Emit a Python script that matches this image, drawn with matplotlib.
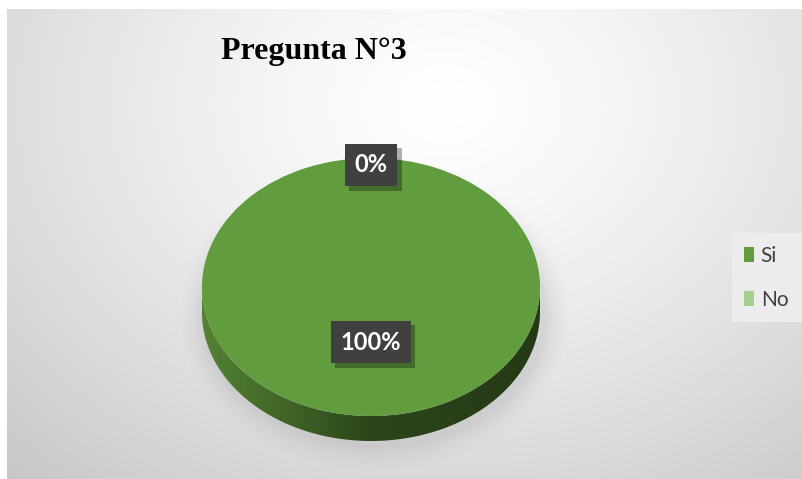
import numpy as np
import matplotlib
matplotlib.use("Agg")
import matplotlib.pyplot as plt
from matplotlib.path import Path
from matplotlib.patches import PathPatch, Rectangle, Ellipse
import matplotlib.patheffects as pe

# ---- data ----
title = "Pregunta N°3"
categories = ["Si", "No"]
values = [100, 0]
pct_labels = ["100%", "0%"]
colors = ["#619c3e", "#a6cf8e"]

W, H = 803, 479
fig = plt.figure(figsize=(W / 100, H / 100), dpi=100)
fig.patch.set_facecolor("white")

# background panel with radial gradient
bx0, by0 = 7, 9
bg = fig.add_axes([bx0 / W, 0, 1 - bx0 / W, 1 - by0 / H])
bg.set_axis_off()
ny, nx = 200, 330
yy, xx = np.mgrid[0:ny, 0:nx]
cx, cy = 0.55 * nx, 0.2 * ny
r = np.sqrt(((xx - cx) / nx) ** 2 + ((yy - cy) / ny * 0.75) ** 2)
r = r / r.max()
val = 1.0 - 0.22 * np.clip(r, 0, 1) ** 1.3
img = np.dstack([val, val, val])
bg.imshow(img, aspect="auto", extent=[0, 1, 0, 1], origin="upper")
bg.set_xlim(0, 1)
bg.set_ylim(0, 1)

# pie axes (pixel geometry)
pcx, pcy = 371, 287
rx, ry = 169, 129
left_px, right_px, top_px, bot_px = 180, 560, 140, 460
ax = fig.add_axes([left_px / W, (H - bot_px) / H, (right_px - left_px) / W, (bot_px - top_px) / H])
ax.patch.set_alpha(0)

wedges, _ = ax.pie(values, colors=colors, startangle=90, counterclock=False,
                   radius=1, center=(0, 0), wedgeprops=dict(linewidth=0, zorder=5))
ax.set_aspect("auto")
ax.set_axis_off()

depth = 25 / ry

# soft shadow under pie
for i, a in enumerate(np.linspace(0.05, 0.012, 6)):
    e = Ellipse((0.02, -depth - 0.02), 2.0 + 0.05 * (i + 1), 2.0 + 0.07 * (i + 1),
                facecolor="#808080", edgecolor="none", alpha=a, zorder=1, clip_on=False)
    ax.add_patch(e)

# side of the pie with horizontal gradient
t1 = np.linspace(np.pi, 2 * np.pi, 200)
top_arc = np.column_stack([np.cos(t1), np.sin(t1)])
bot_arc = np.column_stack([np.cos(t1[::-1]), np.sin(t1[::-1]) - depth])
verts = np.vstack([top_arc, bot_arc, top_arc[:1]])
codes = [Path.MOVETO] + [Path.LINETO] * (len(verts) - 2) + [Path.CLOSEPOLY]
side_path = Path(verts, codes)
side_patch = PathPatch(side_path, facecolor="none", edgecolor="none")
ax.add_patch(side_patch)
gx = np.linspace(0, 1, 300)
c_left = np.array([84, 130, 52]) / 255
c_mid = np.array([44, 70, 27]) / 255
c_right = np.array([36, 58, 22]) / 255
grad = np.where(gx[:, None] < 0.5,
                c_left + (c_mid - c_left) * (gx[:, None] / 0.5),
                c_mid + (c_right - c_mid) * ((gx[:, None] - 0.5) / 0.5))
grad_img = np.tile(grad[None, :, :], (10, 1, 1))
im = ax.imshow(grad_img, extent=[-1, 1, -1 - depth, 0], aspect="auto", zorder=3)
im.set_clip_path(side_patch)
ax.set_xlim((left_px - pcx) / rx, (right_px - pcx) / rx)
ax.set_ylim((pcy - bot_px) / ry, (pcy - top_px) / ry)

# data labels
label_pos = {"100%": (0, (pcy - 342) / ry), "0%": (0, (pcy - 165) / ry)}
for lab in pct_labels:
    x, y = label_pos[lab]
    t = ax.text(x, y, lab, ha="center", va="center", color="white",
                fontsize=17, fontweight="bold", family=["Lato", "DejaVu Sans"], zorder=10,
                bbox=dict(boxstyle="square,pad=0.42", facecolor="#404040", edgecolor="none"))
    t.get_bbox_patch().set_path_effects([pe.withSimplePatchShadow(offset=(3, -3), alpha=0.3, shadow_rgbFace="black")])

# title
fig.text(314 / W, 1 - 52 / H, title, ha="center", va="center", fontsize=23,
         fontweight="bold", family=["Liberation Serif", "DejaVu Serif"], color="black")

# legend background box
fig.patches.append(Rectangle((732 / W, 1 - 322 / H), (W - 732) / W, 89 / H,
                             transform=fig.transFigure, facecolor="#ececec",
                             edgecolor="none", zorder=1))
leg = fig.legend(wedges, categories, loc="center left", bbox_to_anchor=(744 / W, 1 - 278 / H),
                 frameon=False, borderpad=0, borderaxespad=0, handlelength=0.5, handleheight=0.75,
                 handletextpad=0.3, labelspacing=1.15, prop={"family": ["Lato", "DejaVu Sans"], "size": 15})
for txt in leg.get_texts():
    txt.set_color("#404040")

fig.savefig("out.png", dpi=100)
